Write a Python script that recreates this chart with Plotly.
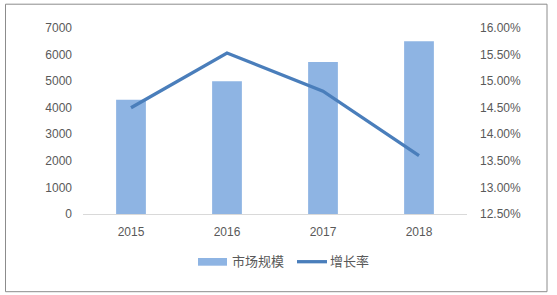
import plotly.graph_objects as go

years = ["2015", "2016", "2017", "2018"]
market_size = [4300, 5000, 5720, 6500]
growth_rate = [0.145, 0.1553, 0.1481, 0.1360]
left_ticks = [0, 1000, 2000, 3000, 4000, 5000, 6000, 7000]
right_ticks = [0.125, 0.13, 0.135, 0.14, 0.145, 0.15, 0.155, 0.16]
bar_name = "市场规模"
line_name = "增长率"

BAR_COLOR = "#8EB4E3"
LINE_COLOR = "#4A7EBB"
TEXT_COLOR = "#595959"
FONT = "Liberation Sans, Noto Sans CJK SC, sans-serif"

fig = go.Figure()
fig.add_trace(go.Bar(x=years, y=market_size, name=bar_name, marker_color=BAR_COLOR,
                     marker_line_width=0, width=0.31, showlegend=False))
fig.add_trace(go.Scatter(x=years, y=growth_rate, name=line_name, yaxis="y2", mode="lines",
                         line=dict(color=LINE_COLOR, width=3.3), showlegend=False))

W, H = 557, 295
L, R, T, B = 83, 467, 28.3, 214.3
pw, ph = R - L, B - T


def px(x):
    return (x - L) / pw


def py(y):
    return (B - y) / ph


shapes = [
    # outer border
    dict(type="rect", xref="paper", yref="paper", x0=px(5.5), x1=px(547), y0=py(292), y1=py(4.5),
         line=dict(color="#8C8C8C", width=1), fillcolor="rgba(0,0,0,0)"),
    # legend: bar swatch
    dict(type="rect", xref="paper", yref="paper", x0=px(198), x1=px(227), y0=py(266), y1=py(258.3),
         line=dict(width=0), fillcolor=BAR_COLOR),
    # legend: line swatch
    dict(type="line", xref="paper", yref="paper", x0=px(297), x1=px(327), y0=py(262), y1=py(262),
         line=dict(color=LINE_COLOR, width=3.3)),
]

annotations = [
    dict(text=bar_name, xref="paper", yref="paper", x=px(230), y=py(262), xanchor="left", yanchor="middle",
         showarrow=False, font=dict(size=13, color=TEXT_COLOR, family=FONT)),
    dict(text=line_name, xref="paper", yref="paper", x=px(328), y=py(262), xanchor="left", yanchor="middle",
         showarrow=False, font=dict(size=13, color=TEXT_COLOR, family=FONT)),
]

fig.update_layout(
    width=W, height=H,
    margin=dict(l=L, r=W - R, t=T, b=H - B, pad=0),
    paper_bgcolor="white", plot_bgcolor="white",
    font=dict(family=FONT, size=12, color=TEXT_COLOR),
    bargap=0.69,
    xaxis=dict(showgrid=False, showline=True, linecolor="#D9D9D9", linewidth=1,
               ticks="", tickfont=dict(size=12, color=TEXT_COLOR), ticklabelstandoff=7,
               zeroline=False),
    yaxis=dict(range=[0, 7000], tickvals=left_ticks, showgrid=False, zeroline=False,
               showline=False, ticks="", ticklabelstandoff=10,
               tickfont=dict(size=12, color=TEXT_COLOR)),
    yaxis2=dict(range=[0.125, 0.16], tickvals=right_ticks, tickformat=".2%", overlaying="y",
                side="right", showgrid=False, zeroline=False, showline=False, ticks="",
                ticklabelstandoff=12, tickfont=dict(size=12, color=TEXT_COLOR)),
    shapes=shapes,
    annotations=annotations,
    showlegend=False,
)

fig.write_html("out.html")
